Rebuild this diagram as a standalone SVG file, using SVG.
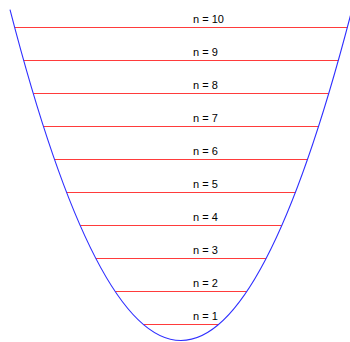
<svg xmlns="http://www.w3.org/2000/svg" width="350" height="342" viewBox="0 0 350 342">
<style>
.lvl{stroke:#ff3b3b;stroke-width:1;fill:none}
.pot{stroke:#2f2fff;stroke-width:1.1;fill:none}
text{font-family:"Liberation Sans",Arial,sans-serif;font-size:11px;fill:#000}
</style>
<rect width="350" height="342" fill="#fff"/>
<g id="connectors">
<line class="lvl" x1="14.7" y1="27.5" x2="347.3" y2="27.5"/>
<line class="lvl" x1="23.7" y1="60.5" x2="338.3" y2="60.5"/>
<line class="lvl" x1="33.3" y1="93.5" x2="328.7" y2="93.5"/>
<line class="lvl" x1="43.5" y1="126.5" x2="318.5" y2="126.5"/>
<line class="lvl" x1="54.5" y1="159.5" x2="307.5" y2="159.5"/>
<line class="lvl" x1="66.6" y1="192.5" x2="295.4" y2="192.5"/>
<line class="lvl" x1="80.2" y1="225.5" x2="281.8" y2="225.5"/>
<line class="lvl" x1="95.9" y1="258.5" x2="266.1" y2="258.5"/>
<line class="lvl" x1="115.2" y1="291.5" x2="246.8" y2="291.5"/>
<line class="lvl" x1="143.4" y1="324.5" x2="218.6" y2="324.5"/>
</g>
<g id="potential">
<path class="pot" d="M10,9.6 Q181,671.4 352,9.6"/>
</g>
<g id="labels">
<g id="n10"><text x="193" y="23">n = 10</text></g>
<g id="n9"><text x="193" y="56">n = 9</text></g>
<g id="n8"><text x="193" y="89">n = 8</text></g>
<g id="n7"><text x="193" y="122">n = 7</text></g>
<g id="n6"><text x="193" y="155">n = 6</text></g>
<g id="n5"><text x="193" y="188">n = 5</text></g>
<g id="n4"><text x="193" y="221">n = 4</text></g>
<g id="n3"><text x="193" y="254">n = 3</text></g>
<g id="n2"><text x="193" y="287">n = 2</text></g>
<g id="n1"><text x="193" y="320">n = 1</text></g>
</g>
</svg>
